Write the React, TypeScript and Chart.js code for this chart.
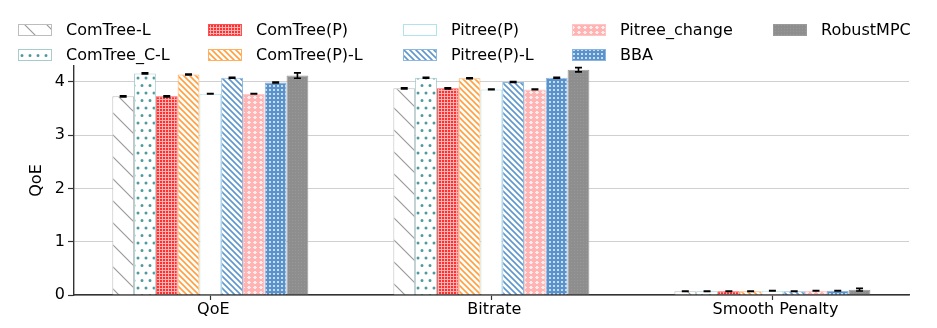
import { useEffect, useRef } from 'react';
import { Chart, registerables } from 'chart.js';

Chart.register(...registerables);

const categories = ['QoE', 'Bitrate', 'Smooth Penalty'];
const seriesNames = [
  'ComTree-L',
  'ComTree_C-L',
  'ComTree(P)',
  'ComTree(P)-L',
  'Pitree(P)',
  'Pitree(P)-L',
  'Pitree_change',
  'BBA',
  'RobustMPC',
];
const comTreeL = [3.73, 3.88, 0.07];
const comTreeCL = [4.16, 4.08, 0.07];
const comTreeP = [3.73, 3.88, 0.07];
const comTreePL = [4.14, 4.07, 0.07];
const pitreeP = [3.78, 3.86, 0.08];
const pitreePL = [4.08, 4.0, 0.07];
const pitreeChange = [3.78, 3.86, 0.08];
const bba = [3.99, 4.08, 0.08];
const robustMPC = [4.12, 4.23, 0.1];

const comTreeLErr = [0.01, 0.01, 0.005];
const comTreeCLErr = [0.01, 0.01, 0.005];
const comTreePErr = [0.01, 0.01, 0.005];
const comTreePLErr = [0.01, 0.01, 0.005];
const pitreePErr = [0.005, 0.005, 0.005];
const pitreePLErr = [0.01, 0.01, 0.005];
const pitreeChangeErr = [0.005, 0.005, 0.005];
const bbaErr = [0.01, 0.01, 0.005];
const robustMPCErr = [0.05, 0.04, 0.025];

const yTicks = [0, 1, 2, 3, 4];

const seriesValues = [comTreeL, comTreeCL, comTreeP, comTreePL, pitreeP, pitreePL, pitreeChange, bba, robustMPC];
const seriesErrors = [
  comTreeLErr,
  comTreeCLErr,
  comTreePErr,
  comTreePLErr,
  pitreePErr,
  pitreePLErr,
  pitreeChangeErr,
  bbaErr,
  robustMPCErr,
];

const FONT = 'DejaVu Sans';

function makeTile(w: number, h: number, draw: (g: CanvasRenderingContext2D, w: number, h: number) => void) {
  const c = document.createElement('canvas');
  c.width = w;
  c.height = h;
  const g = c.getContext('2d') as CanvasRenderingContext2D;
  draw(g, w, h);
  return c;
}

function diagTile(bg: string | null, color: string, p: number, lw: number) {
  return makeTile(p, p, (g) => {
    if (bg) {
      g.fillStyle = bg;
      g.fillRect(0, 0, p, p);
    }
    g.strokeStyle = color;
    g.lineWidth = lw;
    g.beginPath();
    for (let k = -1; k <= 1; k++) {
      g.moveTo(-p, -p + k * p);
      g.lineTo(2 * p, 2 * p + k * p);
    }
    g.stroke();
  });
}

function buildStyles(ctx: CanvasRenderingContext2D) {
  const P = (c: HTMLCanvasElement) => ctx.createPattern(c, 'repeat') as CanvasPattern;
  const grayDiag = P(diagTile('#ffffff', '#9a9a9a', 22, 1.2));
  const dots = P(
    makeTile(8, 15, (g) => {
      g.fillStyle = '#ffffff';
      g.fillRect(0, 0, 8, 15);
      g.fillStyle = '#4f9a9c';
      g.beginPath();
      g.arc(2, 3, 1.5, 0, Math.PI * 2);
      g.arc(6, 10.5, 1.5, 0, Math.PI * 2);
      g.fill();
    })
  );
  const redGrid = P(
    makeTile(3, 3, (g) => {
      g.fillStyle = '#ff3030';
      g.fillRect(0, 0, 3, 3);
      g.fillStyle = 'rgba(255,190,190,0.9)';
      g.fillRect(0, 0, 3, 1);
      g.fillRect(0, 0, 1, 3);
    })
  );
  const orangeDiag = P(diagTile('#ffffff', '#ff9f40', 6, 1.6));
  const blueDiag = P(diagTile('#ffffff', '#5f96cc', 6, 1.6));
  const pinkStars = P(
    makeTile(6, 5, (g) => {
      g.fillStyle = '#ffb3b3';
      g.fillRect(0, 0, 6, 5);
      g.fillStyle = '#ffecec';
      g.fillRect(2, 1, 2, 3);
      g.fillRect(1, 2, 4, 1);
    })
  );
  const bbaGrid = P(
    makeTile(4, 4, (g) => {
      g.fillStyle = '#5a92cc';
      g.fillRect(0, 0, 4, 4);
      g.fillStyle = '#c9dcf0';
      g.fillRect(1, 1, 2, 2);
    })
  );
  const mpcTex = P(
    makeTile(3, 3, (g) => {
      g.fillStyle = '#8e8e8e';
      g.fillRect(0, 0, 3, 3);
      g.fillStyle = '#999999';
      g.fillRect(1, 1, 1, 1);
    })
  );
  return {
    fills: [grayDiag, dots, redGrid, orangeDiag, '#ffffff', blueDiag, pinkStars, bbaGrid, mpcTex],
    borders: ['#bdbdbd', '#a6cccc', '#ff5050', '#ffb060', '#b0e4ec', '#8fb8e0', '#ffc4c4', '#8ab4e0', '#9a9a9a'],
  };
}

export default function App() {
  const ref = useRef<HTMLCanvasElement | null>(null);

  useEffect(() => {
    const canvas = ref.current;
    if (!canvas) return;
    const ctx = canvas.getContext('2d') as CanvasRenderingContext2D;
    const styles = buildStyles(ctx);

    const errorBars = {
      id: 'errorBars',
      afterDraw(chart: any) {
        const c = chart.ctx;
        const ys = chart.scales.y;
        c.save();
        c.strokeStyle = '#000000';
        c.lineWidth = 1.6;
        chart.data.datasets.forEach((ds: any, di: number) => {
          const meta = chart.getDatasetMeta(di);
          meta.data.forEach((bar: any, i: number) => {
            const v = ds.data[i].y;
            const e = seriesErrors[di][i];
            const x = bar.x;
            const yt = ys.getPixelForValue(v + e);
            const yb = ys.getPixelForValue(v - e);
            c.beginPath();
            c.moveTo(x, yt);
            c.lineTo(x, yb);
            c.moveTo(x - 3.5, yt);
            c.lineTo(x + 3.5, yt);
            c.moveTo(x - 3.5, yb);
            c.lineTo(x + 3.5, yb);
            c.stroke();
          });
        });
        c.restore();
      },
    };

    const legendPlugin = {
      id: 'customLegend',
      afterDraw(chart: any) {
        const c = chart.ctx;
        const colX = [18, 208, 403, 572, 773];
        const rowY = [30, 55];
        c.save();
        c.font = `16px "${FONT}"`;
        c.textBaseline = 'middle';
        c.textAlign = 'left';
        seriesNames.forEach((name, j) => {
          const x = colX[Math.floor(j / 2)];
          const y = rowY[j % 2];
          c.fillStyle = styles.fills[j];
          c.fillRect(x, y - 6, 34, 12);
          c.strokeStyle = styles.borders[j];
          c.lineWidth = 1;
          c.strokeRect(x + 0.5, y - 5.5, 33, 11);
          c.fillStyle = '#000000';
          c.fillText(name, x + 48, y + 1);
        });
        c.restore();
      },
    };

    const chart = new Chart(canvas, {
      type: 'bar',
      data: {
        datasets: seriesNames.map((name, j) => ({
          label: name,
          data: seriesValues[j].map((v, i) => ({ x: i, y: v })),
          backgroundColor: styles.fills[j],
          borderColor: styles.borders[j],
          borderWidth: 1,
          categoryPercentage: 0.6975,
          barPercentage: 1.0,
        })),
      },
      options: {
        animation: false,
        responsive: false,
        layout: { padding: { left: 0, right: 28, top: 66, bottom: 0 } },
        plugins: {
          legend: { display: false },
          tooltip: { enabled: false },
        },
        scales: {
          x: {
            type: 'linear',
            offset: false,
            min: -0.485,
            max: 2.486,
            z: 1,
            afterBuildTicks: (s: any) => {
              s.ticks = categories.map((_, i) => ({ value: i }));
            },
            afterFit: (s: any) => {
              s.height = 33;
            },
            grid: {
              display: true,
              offset: false,
              drawOnChartArea: false,
              drawTicks: true,
              tickLength: 5,
              tickColor: '#333333',
              tickWidth: 1.2,
            },
            border: { display: true, color: '#333333', width: 1.4 },
            ticks: {
              padding: 0,
              labelOffset: 3,
              color: '#000000',
              font: { family: FONT, size: 16 },
              maxRotation: 0,
              autoSkip: false,
              callback: (v: any) => categories[Math.round(v)],
            },
          },
          y: {
            type: 'linear',
            min: 0,
            max: 4.3,
            z: 1,
            afterBuildTicks: (s: any) => {
              s.ticks = yTicks.map((v) => ({ value: v }));
            },
            afterFit: (s: any) => {
              s.width = 74;
            },
            grid: {
              color: 'rgba(170,170,170,0.55)',
              lineWidth: 1,
              drawTicks: true,
              tickLength: 6,
              tickColor: '#333333',
              tickWidth: 1.2,
            },
            border: { display: true, color: '#333333', width: 1.4 },
            ticks: {
              padding: 3,
              color: '#000000',
              font: { family: FONT, size: 16 },
              callback: (v: any) => String(v),
            },
            title: {
              display: true,
              text: 'QoE',
              color: '#000000',
              font: { family: FONT, size: 16 },
              padding: { top: 27, bottom: 0 },
            },
          },
        },
      },
      plugins: [errorBars, legendPlugin],
    });

    return () => {
      chart.destroy();
    };
  }, []);

  return (
    <div style={{ position: 'absolute', left: 0, top: 0, width: 937, height: 328, background: '#ffffff' }}>
      <canvas ref={ref} width={937} height={328} style={{ display: 'block' }} />
    </div>
  );
}
